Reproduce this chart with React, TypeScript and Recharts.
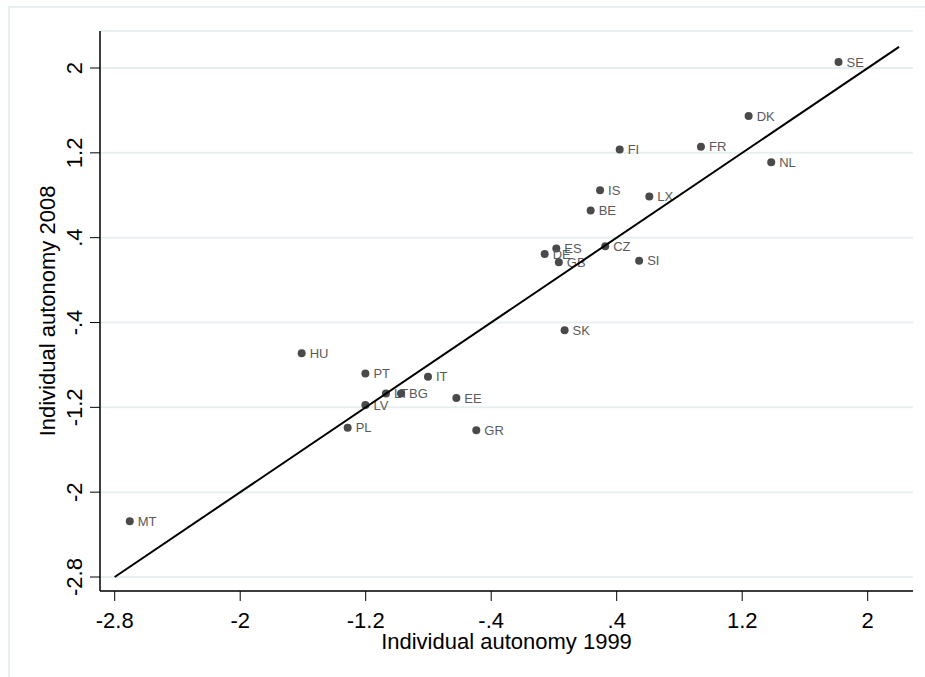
import React from "react";
import { ScatterChart, Scatter, XAxis, YAxis, CartesianGrid, Label } from "recharts";

const countries = ["SE","DK","FI","FR","NL","IS","LX","BE","CZ","ES","DE","GB","SI","SK","HU","PT","IT","LT","BG","EE","LV","PL","GR","MT"];
const autonomy1999 = [1.814,1.241,0.419,0.937,1.385,0.294,0.608,0.234,0.327,0.015,-0.059,0.031,0.543,0.068,-1.608,-1.202,-0.803,-1.071,-0.975,-0.622,-1.202,-1.315,-0.495,-2.704];
const autonomy2008 = [2.057,1.547,1.232,1.257,1.111,0.848,0.788,0.657,0.319,0.299,0.247,0.168,0.183,-0.472,-0.689,-0.882,-0.911,-1.070,-1.070,-1.111,-1.179,-1.392,-1.415,-2.274];
const fitLineX = [-2.8, 2.2];
const fitLineY = [-2.8, 2.2];
const xTicks = [-2.8, -2, -1.2, -0.4, 0.4, 1.2, 2];
const yTicks = [-2.8, -2, -1.2, -0.4, 0.4, 1.2, 2];

const points = countries.map((c, i) => ({ name: c, x: autonomy1999[i], y: autonomy2008[i] }));
const linePts = fitLineX.map((x, i) => ({ x, y: fitLineY[i] }));

const FONT = "'Liberation Sans', Arial, sans-serif";

const fmt = (v: number) => {
  const r = Math.round(v * 10) / 10;
  let s = String(r);
  s = s.replace(/^0\./, ".").replace(/^-0\./, "-.");
  return s;
};

const Dot = (props: any) => {
  const { cx, cy, payload } = props;
  if (cx == null || cy == null) return null;
  return (
    <g>
      <circle cx={cx} cy={cy} r={4} fill="#4a4a4a" />
      <text x={cx + 8} y={cy} dy="0.36em" fontSize={13} fill="#5a5a5a" fontFamily={FONT}>
        {payload.name}
      </text>
    </g>
  );
};

const YTick = (props: any) => {
  const { x, y, payload } = props;
  return (
    <text x={x} y={y} transform={`rotate(-90 ${x} ${y})`} textAnchor="middle" fontSize={22} fill="#000" fontFamily={FONT}>
      {fmt(payload.value)}
    </text>
  );
};

export default function App() {
  return (
    <div style={{ position: "absolute", left: 0, top: 0, width: 925, height: 677, background: "#fff" }}>
      <div style={{ position: "absolute", left: 8, top: 6, width: 917, height: 671, borderTop: "2px solid #e8eff1", borderLeft: "2px solid #e8eff1", boxSizing: "border-box" }} />
      <div style={{ position: "absolute", left: 0, top: 0 }}>
        <ScatterChart width={925} height={677} margin={{ top: 31, right: 12, bottom: 26, left: 40 }}>
          <CartesianGrid horizontal={true} vertical={false} stroke="#e8eff1" strokeWidth={2} />
          <XAxis
            type="number"
            dataKey="x"
            domain={[-2.8937, 2.2888]}
            ticks={xTicks}
            allowDataOverflow
            height={60}
            tickSize={10}
            tickMargin={11}
            tickFormatter={fmt}
            stroke="#000"
            tick={{ fill: "#000", fontSize: 22, fontFamily: FONT }}
            tickLine={{ stroke: "#000" }}
            axisLine={{ stroke: "#000", strokeWidth: 1.5 }}
          >
            <Label
              content={(p: any) => {
                const vb = p.viewBox || {};
                return (
                  <text x={vb.x + vb.width / 2} y={vb.y + 58} textAnchor="middle" fontSize={22} fill="#000" fontFamily={FONT}>
                    Individual autonomy 1999
                  </text>
                );
              }}
            />
          </XAxis>
          <YAxis
            type="number"
            dataKey="y"
            domain={[-2.932, 2.349]}
            ticks={yTicks}
            allowDataOverflow
            width={60}
            tickSize={10}
            tickMargin={8}
            tick={<YTick />}
            stroke="#000"
            tickLine={{ stroke: "#000" }}
            axisLine={{ stroke: "#000", strokeWidth: 1.5 }}
          >
            <Label
              content={(p: any) => {
                const vb = p.viewBox || {};
                const cx = vb.x + 15;
                const cy = vb.y + vb.height / 2;
                return (
                  <text x={cx} y={cy} transform={`rotate(-90 ${cx} ${cy})`} textAnchor="middle" fontSize={22} fill="#000" fontFamily={FONT}>
                    Individual autonomy 2008
                  </text>
                );
              }}
            />
          </YAxis>
          <Scatter data={points} shape={<Dot />} isAnimationActive={false} />
          <Scatter
            data={linePts}
            line={{ stroke: "#000", strokeWidth: 2 }}
            shape={() => <g />}
            isAnimationActive={false}
          />
        </ScatterChart>
      </div>
    </div>
  );
}
